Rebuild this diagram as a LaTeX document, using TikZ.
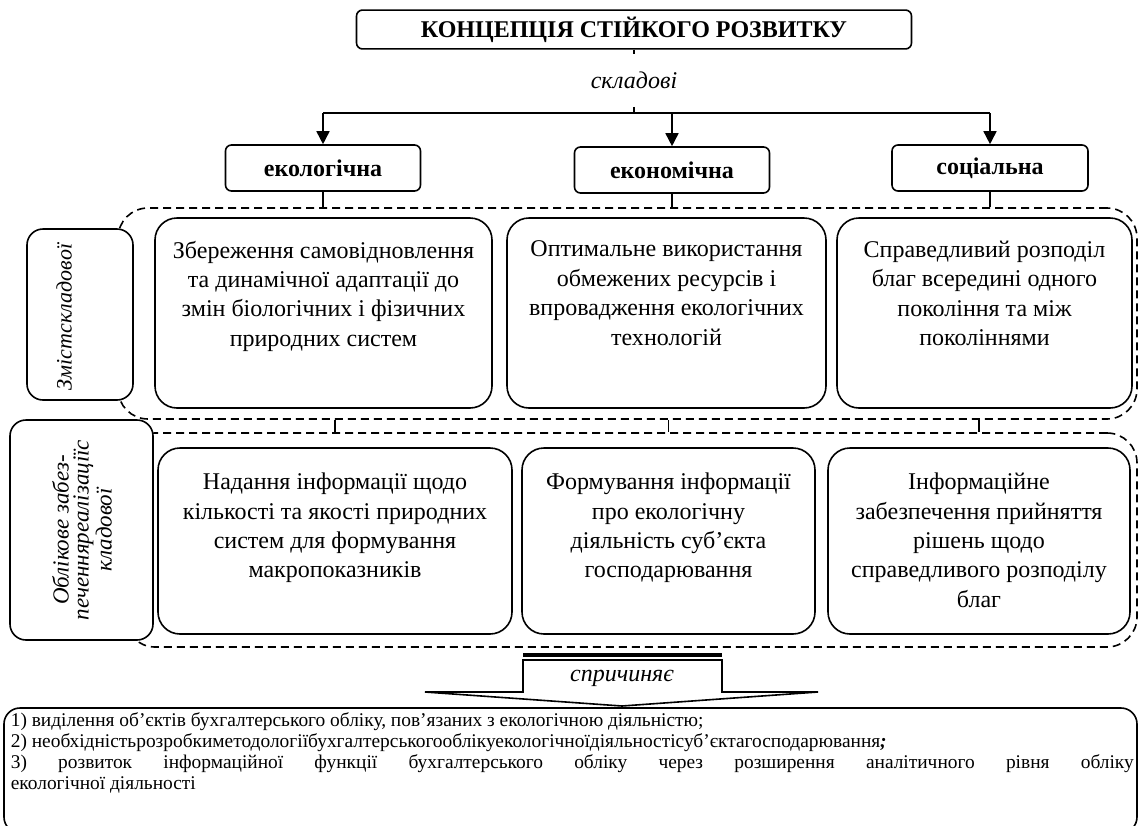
\documentclass[tikz,border=0pt]{standalone}
\usepackage{fontspec}
\setmainfont{Liberation Serif}
\usetikzlibrary{arrows.meta}

\newcommand\boxfont{\fontsize{12}{14.7}\selectfont}
\newcommand\notefont{\fontsize{9.7}{10.5}\selectfont}

\tikzset{
  headbox/.style={draw, rounded corners=3pt, minimum width=277.5pt,
    minimum height=18.5pt, font=\boxfont\bfseries},
  catbox/.style={draw, rounded corners=3pt, minimum width=97.5pt,
    minimum height=23pt, font=\boxfont\bfseries},
  zone/.style={draw, dash pattern=on 4pt off 2.5pt, rounded corners=15pt},
  sidebox/.style={draw, fill=white, rounded corners=8pt},
  sidetext/.style={rotate=90, align=center, font=\fontsize{11.5}{10}\selectfont\itshape},
  contbox/.style={draw, rounded corners=11pt, minimum height=95pt},
  conttext/.style={anchor=north, align=center, font=\boxfont, inner sep=0pt},
  arr/.style={-{Triangle[length=6.5pt,width=6.5pt]}}
}

\begin{document}
\begin{tikzpicture}[x=0.5pt, y=-0.5pt, line width=0.8pt]
\useasboundingbox (0,0) rectangle (1139,825);

% концепція і складові
\node[headbox] (title) at (634,29.5) {КОНЦЕПЦІЯ СТІЙКОГО РОЗВИТКУ};
\node[font=\boxfont\itshape, minimum height=25.5pt] (skl) at (634,80.5) {складові};
\coordinate (jM) at (634,113);
\coordinate (jL) at (323,113);
\coordinate (jR) at (990,113);

\node[catbox] (eco) at (323,168) {екологічна};
\node[catbox] (econ) at (672,170) {економічна};
\node[catbox, minimum width=98pt] (soc) at (990,168) {соціальна};

\draw (title) -- (skl);
\draw (skl) -- (jM);
\draw (jL) -- (jR);
\draw[arr] (jL) -- (eco);
\draw[arr] (econ |- jM) -- (econ);
\draw[arr] (jR) -- (soc);

% пунктирні зони
\node[zone, minimum width=509.5pt, minimum height=105.5pt] (zone1) at (627.5,313.5) {};
\node[zone, minimum width=506pt, minimum height=107pt] (zone2) at (631,540) {};

\draw (eco) -- (eco |- zone1.north);
\draw (econ) -- (econ |- zone1.north);
\draw (soc) -- (soc |- zone1.north);

% зміст складової
\node[sidebox, minimum width=53pt, minimum height=85.5pt] (side1) at (80,314.5) {};
\node[sidetext, font=\fontsize{11}{10}\selectfont\itshape] (side1t) at (64,317) {Змістскладової};

\node[contbox, minimum width=168.5pt] (cA) at (323.5,313) {};
\node[conttext] (tA) at ([yshift=-11.5pt]cA.north) {Збереження самовідновлення\\
  та динамічної адаптації до\\ змін біологічних і фізичних\\ природних систем};
\node[contbox, minimum width=159.5pt] (cB) at (666.5,313) {};
\node[conttext] (tB) at ([yshift=-11.5pt]cB.north) {Оптимальне використання\\
  обмежених ресурсів і\\ впровадження екологічних\\ технологій};
\node[contbox, minimum width=147.5pt] (cC) at (984.5,313) {};
\node[conttext] (tC) at ([yshift=-11.5pt]cC.north) {Справедливий розподіл\\
  благ всередині одного\\ покоління та між\\ поколіннями};

% облікове забезпечення
\node[sidebox, minimum width=71.5pt, minimum height=110pt] (side2) at (81.5,530) {};
\node[sidetext] (side2t) at (82,530) {Облікове забез-\\печенняреалізаціїс\\кладової};

\node[contbox, minimum width=177pt, minimum height=93pt] (cD) at (335,541) {};
\node[conttext] (tD) at ([yshift=-12.5pt]cD.north) {Надання інформації щодо\\
  кількості та якості природних\\ систем для формування\\ макропоказників};
\node[contbox, minimum width=146.5pt, minimum height=93pt] (cE) at (668.5,541) {};
\node[conttext] (tE) at ([yshift=-12.5pt]cE.north) {Формування інформації\\
  про екологічну\\ діяльність суб’єкта\\ господарювання};
\node[contbox, minimum width=151pt, minimum height=93pt] (cF) at (979,541) {};
\node[conttext] (tF) at ([yshift=-12.5pt]cF.north) {Інформаційне\\
  забезпечення прийняття\\ рішень щодо\\ справедливого розподілу\\ благ};

\draw (zone1.south -| cD) -- (zone2.north -| cD);
\draw (zone1.south -| cE) -- (zone2.north -| cE);
\draw (zone1.south -| cF) -- (zone2.north -| cF);

% спричиняє
\draw[line width=1.6pt] (523,655) -- (722,655);
\draw (523,660) -- (523,692) -- (425,692) -- (622,706) -- (818,692)
  -- (722,692) -- (722,660) -- cycle;
\node[font=\boxfont\itshape] (caus) at (622,678) {спричиняє};

% наслідки
\node[draw, rounded corners=8pt, minimum width=566.5pt, minimum height=62.5pt] (res) at (570.5,770.5) {};
\node[anchor=north west, align=left, font=\notefont, inner sep=0pt] (rest) at (10,712)
  {1) виділення об’єктів бухгалтерського обліку, пов’язаних з екологічною діяльністю;\\
   2) необхідністьрозробкиметодологіїбухгалтерськогооблікуекологічноїдіяльностісуб’єктагосподарювання\textbf{\textit{;}}\\
   \makebox[561.5pt][s]{3) розвиток інформаційної функції бухгалтерського обліку через розширення аналітичного рівня обліку}\\
   екологічної діяльності};
\end{tikzpicture}
\end{document}
